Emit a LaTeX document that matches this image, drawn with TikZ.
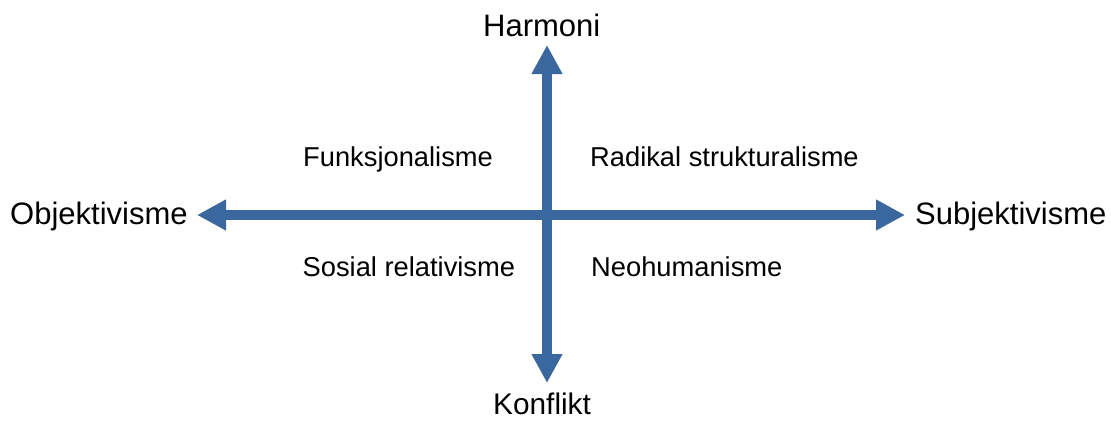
\documentclass[tikz,border=0pt]{standalone}
\usepackage{fontspec}
\setmainfont{Liberation Sans}
\usetikzlibrary{arrows.meta}
\definecolor{axisblue}{HTML}{3A689E}
\tikzset{
  axis/.style={draw=axisblue, line width=10pt,
    {Triangle[width=29pt,length=29pt]}-{Triangle[width=29pt,length=29pt]}},
  polelabel/.style={inner sep=0pt, anchor=base west, font=\fontsize{31}{37}\selectfont},
  quadlabel/.style={inner sep=0pt, anchor=base west, font=\fontsize{27.3}{32}\selectfont}
}
\begin{document}
\begin{tikzpicture}[x=1pt,y=-1pt]
  \useasboundingbox (0,0) rectangle (1111,421);
  % axis end points
  \coordinate (west) at (197,215);
  \coordinate (east) at (905,215);
  \coordinate (north) at (547,45);
  \coordinate (south) at (547,383);
  % the two axes
  \draw[axis] (west) -- (east);
  \draw[axis] (south) -- (north);
  % pole labels
  \node[polelabel] (harmoni) at (483,36.5) {Harmoni};
  \node[polelabel, font=\fontsize{29.8}{36}\selectfont] (konflikt) at (493,414.5) {Konflikt};
  \node[polelabel] (obj) at (10,224.5) {Objektivisme};
  \node[polelabel] (subj) at (915,224.5) {Subjektivisme};
  % quadrant labels
  \node[quadlabel] (funk) at (303,166.5) {Funksjonalisme};
  \node[quadlabel] (radikal) at (590,166.5) {Radikal strukturalisme};
  \node[quadlabel] (sosial) at (302.5,276.5) {Sosial relativisme};
  \node[quadlabel] (neo) at (591,276.5) {Neohumanisme};
\end{tikzpicture}
\end{document}
